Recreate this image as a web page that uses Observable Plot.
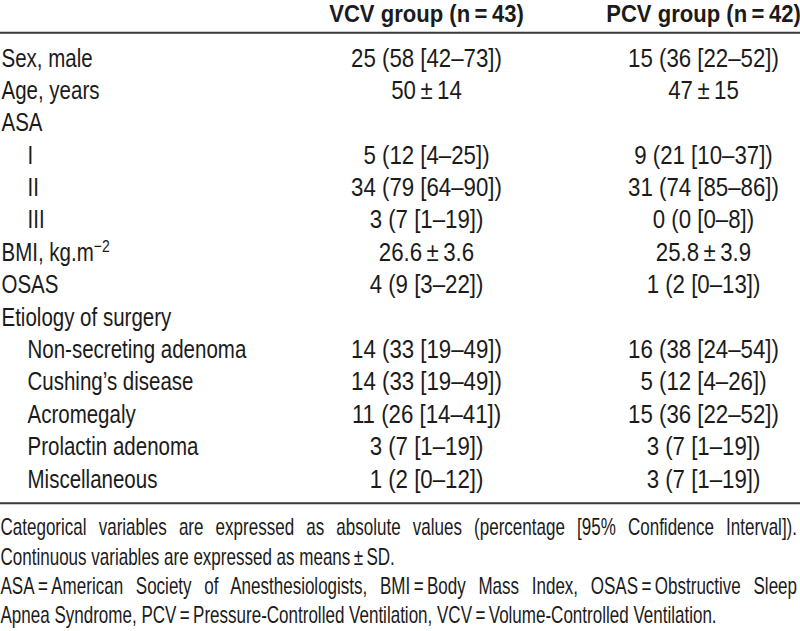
<!DOCTYPE html>
<html>
<head>
<meta charset="utf-8">
<script src="https://cdn.jsdelivr.net/npm/d3@7"></script>
<script src="https://cdn.jsdelivr.net/npm/@observablehq/plot@0.6"></script>
<style>
  html, body { margin: 0; padding: 0; background: #fff; }
  #chart svg { display: block; }
</style>
</head>
<body>
<div id="chart"></div>
<script>
// ---- data ----
const headers = ["VCV group (n\u2009=\u200943)", "PCV group (n\u2009=\u200942)"];
const labels = [
  "Sex, male", "Age, years", "ASA", "I", "II", "III", "BMI, kg.m\u22122", "OSAS",
  "Etiology of surgery", "Non-secreting adenoma", "Cushing\u2019s disease", "Acromegaly",
  "Prolactin adenoma", "Miscellaneous"
];
const indented = [false, false, false, true, true, true, false, false, false, true, true, true, true, true];
const vcvValues = [
  "25 (58 [42\u201373])", "50\u2009\u00b1\u200914", "", "5 (12 [4\u201325])", "34 (79 [64\u201390])",
  "3 (7 [1\u201319])", "26.6\u2009\u00b1\u20093.6", "4 (9 [3\u201322])", "", "14 (33 [19\u201349])",
  "14 (33 [19\u201349])", "11 (26 [14\u201341])", "3 (7 [1\u201319])", "1 (2 [0\u201312])"
];
const pcvValues = [
  "15 (36 [22\u201352])", "47\u2009\u00b1\u200915", "", "9 (21 [10\u201337])", "31 (74 [85\u201386])",
  "0 (0 [0\u20138])", "25.8\u2009\u00b1\u20093.9", "1 (2 [0\u201313])", "", "16 (38 [24\u201354])",
  "5 (12 [4\u201326])", "15 (36 [22\u201352])", "3 (7 [1\u201319])", "3 (7 [1\u201319])"
];
const footnotes = [
  "Categorical variables are expressed as absolute values (percentage [95% Confidence Interval]).",
  "Continuous variables are expressed as means\u2009\u00b1\u2009SD.",
  "ASA\u2009=\u2009American Society of Anesthesiologists, BMI\u2009=\u2009Body Mass Index, OSAS\u2009=\u2009Obstructive Sleep",
  "Apnea Syndrome, PCV\u2009=\u2009Pressure-Controlled Ventilation, VCV\u2009=\u2009Volume-Controlled Ventilation."
];
const justifiedFootnotes = [true, false, true, false];

// ---- layout (positions / styles, kept apart from the data) ----
const W = 800, H = 631;
const font = "'Liberation Sans', Arial, Helvetica, sans-serif";
const bodySize = 25, headSize = 24, footSize = 23;
const ink = "#1b1b1b";
const col = { label: 1, indent: 27, vcv: 426, pcv: 703 };     // x positions (px)
const rowFirst = 66, rowLast = 487;                          // baselines of first/last body rows (px)
const headerRow = -1.38, topRuleRow = -1.04, bottomRuleRow = 13.49; // in row units
const footRow0 = 14.48, footStep = 0.9;                      // in row units
// horizontal condensing, imitating a condensed grotesque
const squeeze = { header: 0.92, labels: 0.82, values: 0.89, notes: 0.74 };

const rows = labels.map((label, i) => ({
  i, label, indent: indented[i], vcv: vcvValues[i], pcv: pcvValues[i]
}));
const headerData = headers.map((h, k) => ({ text: h, x: k === 0 ? col.vcv : col.pcv }));
const footData = footnotes.map((t, k) => ({ text: t, row: footRow0 + k * footStep }));

const chart = Plot.plot({
  width: W,
  height: H,
  margin: 0,
  style: { fontFamily: font, background: "#fff", color: ink },
  x: { domain: [0, W], range: [0, W], axis: null },
  y: { domain: [0, labels.length - 1], range: [rowFirst, rowLast], axis: null },
  marks: [
    Plot.ruleY([topRuleRow, bottomRuleRow], { stroke: "#3a3a3a", strokeWidth: 2 }),
    Plot.text(headerData, {
      x: "x", y: () => headerRow, text: "text", fontSize: headSize, fontWeight: "bold",
      textAnchor: "middle", lineAnchor: "bottom", fill: ink
    }),
    Plot.text(rows, {
      x: d => d.indent ? col.indent : col.label, y: "i", text: "label", fontSize: bodySize,
      textAnchor: "start", lineAnchor: "bottom", fill: ink
    }),
    Plot.text(rows, {
      x: () => col.vcv, y: "i", text: "vcv", fontSize: bodySize,
      textAnchor: "middle", lineAnchor: "bottom", fill: ink
    }),
    Plot.text(rows, {
      x: () => col.pcv, y: "i", text: "pcv", fontSize: bodySize,
      textAnchor: "middle", lineAnchor: "bottom", fill: ink
    }),
    Plot.text(footData, {
      x: () => 0, y: "row", text: "text", fontSize: footSize,
      textAnchor: "start", lineAnchor: "bottom", fill: ink
    })
  ]
});

document.getElementById("chart").appendChild(chart);
const root = d3.select(chart);

function kindOf(t) {
  if (headers.includes(t)) return "header";
  if (labels.includes(t)) return "labels";
  if (vcvValues.includes(t) || pcvValues.includes(t)) return "values";
  if (footnotes.includes(t)) return "notes";
  return null;
}

root.selectAll("text").each(function () {
  const t = this.textContent;
  const kind = kindOf(t);
  if (!kind) return;

  // justify the full-width footnote lines (in unscaled local units)
  if (kind === "notes" && justifiedFootnotes[footnotes.indexOf(t)]) {
    const natural = this.getComputedTextLength();
    const spaces = (t.match(/ /g) || []).length;
    const target = (W - 3) / squeeze.notes;
    if (spaces > 0) this.style.wordSpacing = ((target - natural) / spaces) + "px";
  }

  // superscript for "kg.m−2"
  if (t === "BMI, kg.m\u22122") {
    const s = d3.select(this);
    s.text("BMI, kg.m");
    s.append("tspan").attr("dy", "-9").attr("font-size", 17).text("\u22122");
  }

  // condense horizontally around the text's own anchor
  const k = squeeze[kind];
  const x = +(this.getAttribute("x") || 0);
  const tr = this.getAttribute("transform") || "";
  this.setAttribute("transform", `${tr} translate(${x},0) scale(${k},1) translate(${-x},0)`);
});
</script>
</body>
</html>
